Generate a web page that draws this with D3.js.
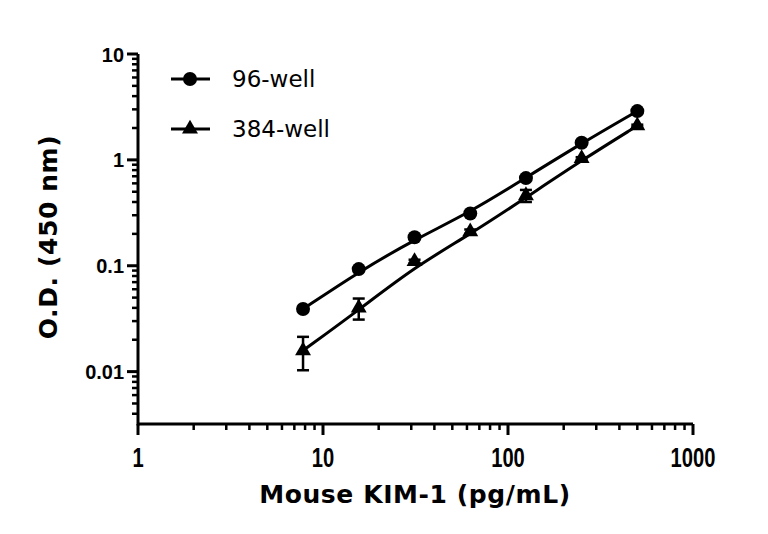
<!DOCTYPE html>
<html>
<head>
<meta charset="utf-8">
<script src="https://cdn.jsdelivr.net/npm/d3@7"></script>
<style>
  body { margin: 0; background: #fff; }
  .tick-label { font-family: "Liberation Sans", Arial, sans-serif; font-weight: bold; }
  .title { font-family: "DejaVu Sans", sans-serif; font-weight: bold; font-size: 25px; letter-spacing: 0.6px; }
  .legend { font-family: "DejaVu Sans", sans-serif; font-size: 23px; }
</style>
</head>
<body>
<div id="chart"></div>
<script>
// concentrations (pg/mL)
const conc = [7.8, 15.6, 31.25, 62.5, 125, 250, 500]
// O.D. readings
const od96 = [0.039, 0.093, 0.186, 0.311, 0.673, 1.45, 2.89]
const od384 = [0.0158, 0.040, 0.11, 0.21, 0.46, 1.03, 2.1]
const sd384 = [0.0055, 0.009, 0.004, 0.01, 0.06, 0.03, 0.05]
const seriesNames = ["96-well", "384-well"]
const xTicks = [1, 10, 100, 1000]
const yTicks = [0.01, 0.1, 1, 10]

const width = 768, height = 534
const margin = {left: 138, right: 75, top: 54, bottom: 110}

const svg = d3.select("#chart").append("svg")
    .attr("width", width)
    .attr("height", height)

const x = d3.scaleLog().domain([1, 1000]).range([margin.left, width - margin.right])
const y = d3.scaleLog().domain([0.0032, 10]).range([height - margin.bottom, margin.top])

// minor ticks
const xMinor = []
for (let d = 1; d < 1000; d *= 10) for (let k = 2; k <= 9; k++) xMinor.push(d * k)
const yMinor = []
for (let d = 0.001; d < 10; d *= 10) for (let k = 2; k <= 9; k++) if (d * k > 0.0032) yMinor.push(d * k)

const axisY = height - margin.bottom
const ax = svg.append("g").attr("stroke", "#000")

ax.append("line")
    .attr("x1", x(1)).attr("x2", x(1000))
    .attr("y1", axisY).attr("y2", axisY)
    .attr("stroke-width", 3)
ax.append("line")
    .attr("x1", margin.left).attr("x2", margin.left)
    .attr("y1", axisY + 1.5).attr("y2", y(10))
    .attr("stroke-width", 3)

ax.selectAll(".xmaj").data(xTicks).join("line")
    .attr("x1", d => x(d)).attr("x2", d => x(d))
    .attr("y1", axisY).attr("y2", axisY + 11)
    .attr("stroke-width", 3)
ax.selectAll(".xmin").data(xMinor).join("line")
    .attr("x1", d => x(d)).attr("x2", d => x(d))
    .attr("y1", axisY).attr("y2", axisY + 6)
    .attr("stroke-width", 2.5)
ax.selectAll(".ymaj").data(yTicks).join("line")
    .attr("x1", margin.left - 11).attr("x2", margin.left)
    .attr("y1", d => y(d)).attr("y2", d => y(d))
    .attr("stroke-width", 3)
ax.selectAll(".ymin").data(yMinor).join("line")
    .attr("x1", margin.left - 6).attr("x2", margin.left)
    .attr("y1", d => y(d)).attr("y2", d => y(d))
    .attr("stroke-width", 2.5)

// narrow bold tick labels on x: squeeze horizontally
svg.selectAll(".xlab").data(xTicks).join("text")
    .attr("class", "tick-label")
    .style("font-size", "28px")
    .attr("transform", d => `translate(${x(d)},${axisY + 43}) scale(0.72,1)`)
    .attr("text-anchor", "middle")
    .text(d => d)
svg.selectAll(".ylab").data(yTicks).join("text")
    .attr("class", "tick-label")
    .style("font-size", "21px")
    .attr("transform", d => `translate(${margin.left - 14},${y(d)}) scale(0.95,1)`)
    .attr("dy", "0.36em")
    .attr("text-anchor", "end")
    .text(d => d)

svg.append("text").attr("class", "title")
    .attr("x", 415).attr("y", 503)
    .attr("text-anchor", "middle")
    .text("Mouse KIM-1 (pg/mL)")
svg.append("text").attr("class", "title")
    .attr("transform", "translate(57,237) rotate(-90)")
    .attr("text-anchor", "middle")
    .text("O.D. (450 nm)")

const line = d3.line().x(d => x(d[0])).y(d => y(d[1])).curve(d3.curveBundle.beta(0.6))
const pts96 = conc.map((c, i) => [c, od96[i]])
const pts384 = conc.map((c, i) => [c, od384[i], sd384[i]])

const tri = d3.symbol().type(d3.symbolTriangle).size(110)

// error bars
const eb = svg.append("g").attr("stroke", "#000").attr("stroke-width", 2.5)
pts384.forEach(d => {
    const lo = y(d[1] - d[2]), hi = y(d[1] + d[2]), cx = x(d[0])
    eb.append("line").attr("x1", cx).attr("x2", cx).attr("y1", lo).attr("y2", hi)
    eb.append("line").attr("x1", cx - 6).attr("x2", cx + 6).attr("y1", lo).attr("y2", lo)
    eb.append("line").attr("x1", cx - 6).attr("x2", cx + 6).attr("y1", hi).attr("y2", hi)
})

svg.append("path").datum(pts96).attr("d", line)
    .attr("fill", "none").attr("stroke", "#000").attr("stroke-width", 3)
svg.append("path").datum(pts384).attr("d", line)
    .attr("fill", "none").attr("stroke", "#000").attr("stroke-width", 3)

svg.selectAll(".c96").data(pts96).join("circle")
    .attr("cx", d => x(d[0])).attr("cy", d => y(d[1])).attr("r", 7)
    .attr("fill", "#000")
svg.selectAll(".t384").data(pts384).join("path")
    .attr("d", tri)
    .attr("transform", d => `translate(${x(d[0])},${y(d[1])})`)
    .attr("fill", "#000")

// legend
const legend = svg.append("g")
seriesNames.forEach((name, i) => {
    const ly = 79 + i * 50
    legend.append("line").attr("x1", 171).attr("x2", 210).attr("y1", ly).attr("y2", ly)
        .attr("stroke", "#000").attr("stroke-width", 3)
    if (i === 0) legend.append("circle").attr("cx", 190).attr("cy", ly).attr("r", 7).attr("fill", "#000")
    else legend.append("path").attr("d", tri).attr("transform", `translate(190,${ly})`).attr("fill", "#000")
    legend.append("text").attr("class", "legend")
        .attr("x", 232).attr("y", ly).attr("dy", "0.36em")
        .text(name)
})
</script>
</body>
</html>
